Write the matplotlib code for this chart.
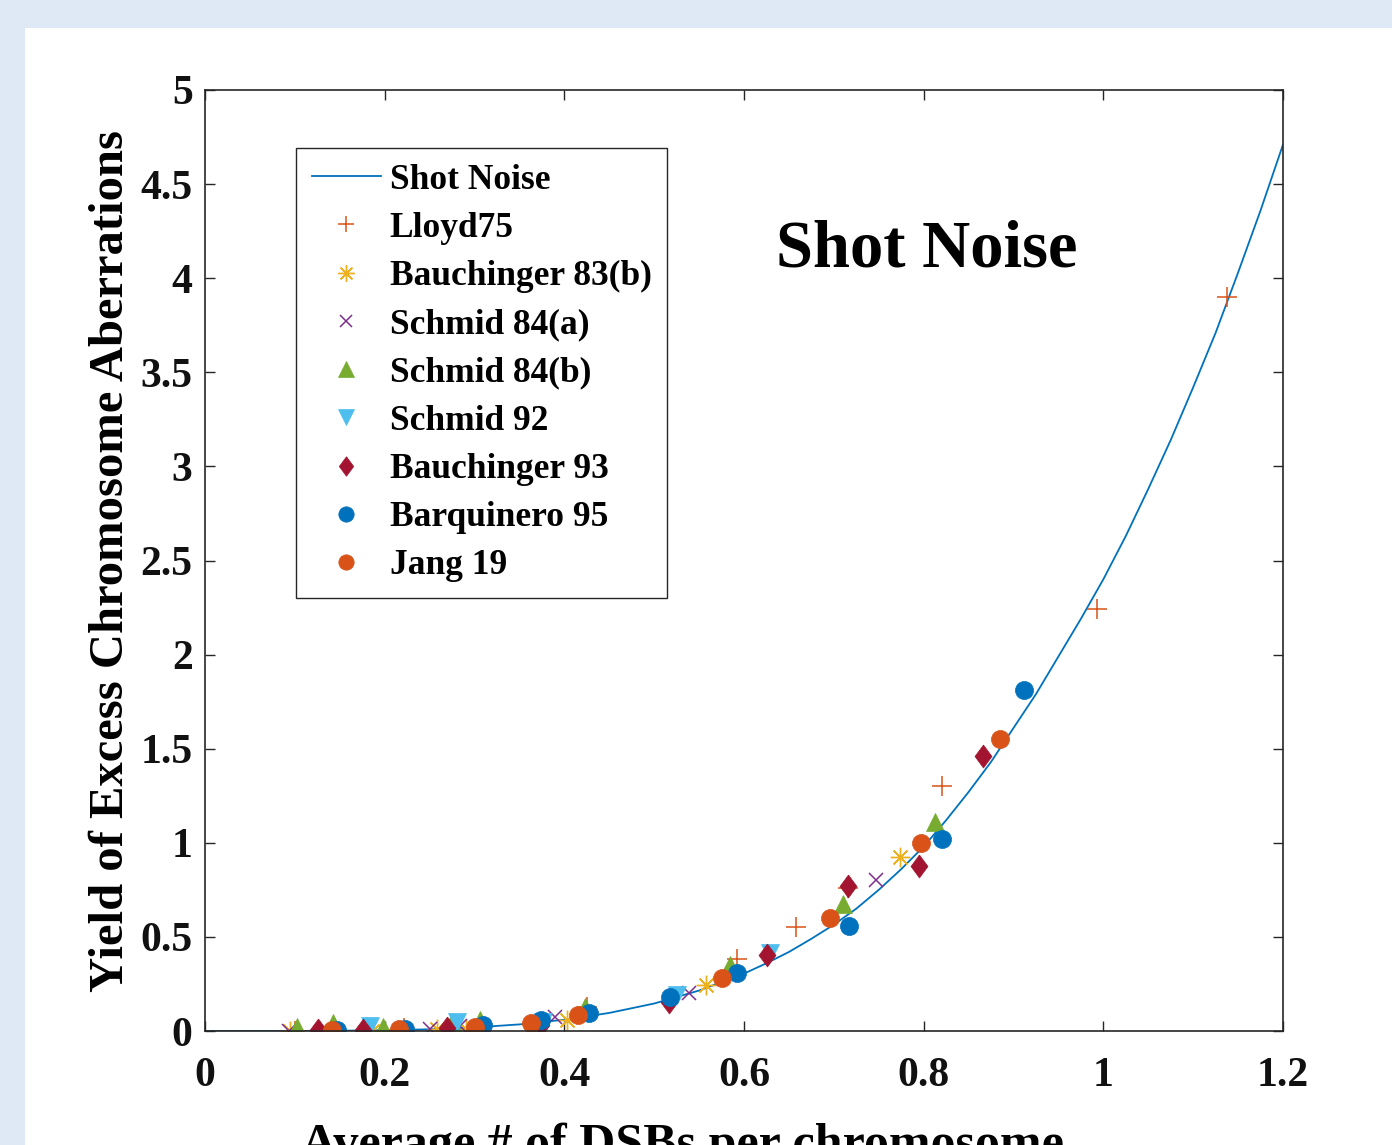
import numpy as np
import matplotlib
matplotlib.use("Agg")
import matplotlib.pyplot as plt
from matplotlib.patches import Rectangle

plt.rcParams['font.family'] = ['Liberation Serif', 'DejaVu Serif']
plt.rcParams['font.weight'] = 'bold'

# model curve
curve_x = [0, 0.05, 0.1, 0.15, 0.2, 0.25, 0.3, 0.35, 0.4, 0.45, 0.5, 0.55, 0.6,
           0.625, 0.65, 0.675, 0.7, 0.725, 0.75, 0.775, 0.8, 0.825, 0.85, 0.875,
           0.9, 0.925, 0.95, 0.975, 1.0, 1.025, 1.05, 1.075, 1.1, 1.125, 1.15,
           1.175, 1.2]
curve_y = [0, 0, 0.0003, 0.0015, 0.004, 0.009, 0.019, 0.035, 0.06, 0.096, 0.146,
           0.215, 0.305, 0.36, 0.42, 0.49, 0.565, 0.65, 0.75, 0.86, 0.98, 1.12,
           1.27, 1.43, 1.61, 1.79, 1.99, 2.19, 2.40, 2.63, 2.88, 3.14, 3.42, 3.71,
           4.03, 4.36, 4.71]

lloyd_x = [0.10, 0.222, 0.306, 0.425, 0.592, 0.658, 0.716, 0.820, 0.993, 1.138]
lloyd_y = [0.0, 0.015, 0.04, 0.13, 0.38, 0.55, 0.76, 1.30, 2.24, 3.90]

bauch83_x = [0.095, 0.186, 0.258, 0.29, 0.403, 0.558, 0.774]
bauch83_y = [0.0, 0.0, 0.01, 0.01, 0.06, 0.245, 0.925]

schmid84a_x = [0.093, 0.25, 0.284, 0.39, 0.539, 0.747]
schmid84a_y = [0.0, 0.01, 0.027, 0.075, 0.20, 0.80]

schmid84b_x = [0.102, 0.142, 0.198, 0.275, 0.306, 0.423, 0.584, 0.710, 0.813]
schmid84b_y = [0.02, 0.04, 0.02, 0.05, 0.06, 0.13, 0.35, 0.675, 1.11]

schmid92_x = [0.184, 0.28, 0.376, 0.525, 0.629]
schmid92_y = [0.025, 0.05, 0.05, 0.19, 0.415]

bauch93_x = [0.126, 0.176, 0.269, 0.374, 0.516, 0.626, 0.716, 0.795, 0.866]
bauch93_y = [0.005, 0.005, 0.015, 0.03, 0.155, 0.405, 0.77, 0.877, 1.46]

barq95_x = [0.147, 0.223, 0.309, 0.374, 0.427, 0.518, 0.592, 0.717, 0.820, 0.912]
barq95_y = [0.003, 0.01, 0.03, 0.06, 0.095, 0.18, 0.31, 0.56, 1.02, 1.81]

jang19_x = [0.141, 0.216, 0.300, 0.363, 0.415, 0.576, 0.696, 0.797, 0.885]
jang19_y = [0.003, 0.008, 0.02, 0.04, 0.085, 0.28, 0.60, 1.00, 1.55]

x_ticks = [0, 0.2, 0.4, 0.6, 0.8, 1, 1.2]
x_ticklabels = ['0', '0.2', '0.4', '0.6', '0.8', '1', '1.2']
y_ticks = [0, 0.5, 1, 1.5, 2, 2.5, 3, 3.5, 4, 4.5, 5]
y_ticklabels = ['0', '0.5', '1', '1.5', '2', '2.5', '3', '3.5', '4', '4.5', '5']

W, H = 1392, 1145
fig = plt.figure(figsize=(W / 100, H / 100), dpi=100, facecolor='#dee9f5')
fig.add_artist(Rectangle((25 / W, 0), 1, 1 - 28 / H, transform=fig.transFigure,
                         facecolor='white', edgecolor='none', zorder=-10))
ax = fig.add_axes([205 / W, 1 - 1031 / H, (1283 - 205) / W, (1031 - 90) / H])

diamond = [(0, 1), (0.74, 0), (0, -1), (-0.74, 0), (0, 1)]

ax.plot(curve_x, curve_y, color='#0072BD', lw=1.3, label='Shot Noise')
ax.plot(lloyd_x, lloyd_y, ls='none', marker='+', ms=14, mew=1.1, color='#D95319', label='Lloyd75')
ax.plot(bauch83_x, bauch83_y, ls='none', marker=(8, 2, 0), ms=14, mew=1.0, color='#EDB120',
        label='Bauchinger 83(b)')
ax.plot(schmid84a_x, schmid84a_y, ls='none', marker='x', ms=9.5, mew=1.1, color='#7E2F8E',
        label='Schmid 84(a)')
ax.plot(schmid84b_x, schmid84b_y, ls='none', marker='^', ms=13.5, mew=0.5, color='#77AC30',
        label='Schmid 84(b)')
ax.plot(schmid92_x, schmid92_y, ls='none', marker='v', ms=13.5, mew=0.5, color='#4DBEEE',
        label='Schmid 92')
ax.plot(bauch93_x, bauch93_y, ls='none', marker=diamond, ms=16.5, mew=0.5, color='#A2142F',
        label='Bauchinger 93')
ax.plot(barq95_x, barq95_y, ls='none', marker='o', ms=13, mew=0.5, color='#0072BD',
        label='Barquinero 95')
ax.plot(jang19_x, jang19_y, ls='none', marker='o', ms=13, mew=0.5, color='#D95319',
        label='Jang 19')

ax.set_xlim(0, 1.2)
ax.set_ylim(0, 5)
ax.set_xticks(x_ticks)
ax.set_xticklabels(x_ticklabels)
ax.set_yticks(y_ticks)
ax.set_yticklabels(y_ticklabels)
ax.tick_params(direction='in', length=7, width=1, color='#262626', labelsize=30,
               top=True, right=True, labelcolor='#111111')
ax.tick_params(axis='x', pad=19)
ax.tick_params(axis='y', pad=9)
for s in ax.spines.values():
    s.set_color('#262626')
    s.set_linewidth(1.2)

ax.set_xlabel('Average # of DSBs per chromosome', fontsize=36, fontweight='bold')
ax.xaxis.set_label_coords(0.443, -0.097)
ax.set_ylabel('Yield of Excess Chromosome Aberrations', fontsize=35, fontweight='bold', labelpad=5)

ax.text(0.803, 4.15, 'Shot Noise', fontsize=48, fontweight='bold', ha='center', va='center')

leg = ax.legend(loc='upper left', bbox_to_anchor=(296 / W, 1 - 148 / H),
                bbox_transform=fig.transFigure, borderaxespad=0, fontsize=25.5,
                frameon=True, fancybox=False, edgecolor='#262626', framealpha=1,
                handlelength=1.95, handletextpad=0.25, borderpad=0.44, labelspacing=0.43)
leg.get_frame().set_linewidth(1.0)
for h in leg.legend_handles:
    if h.get_marker() not in (None, 'None', ''):
        h.set_markersize(h.get_markersize() * 0.85)

fig.savefig('out.png', dpi=100, facecolor=fig.get_facecolor())
